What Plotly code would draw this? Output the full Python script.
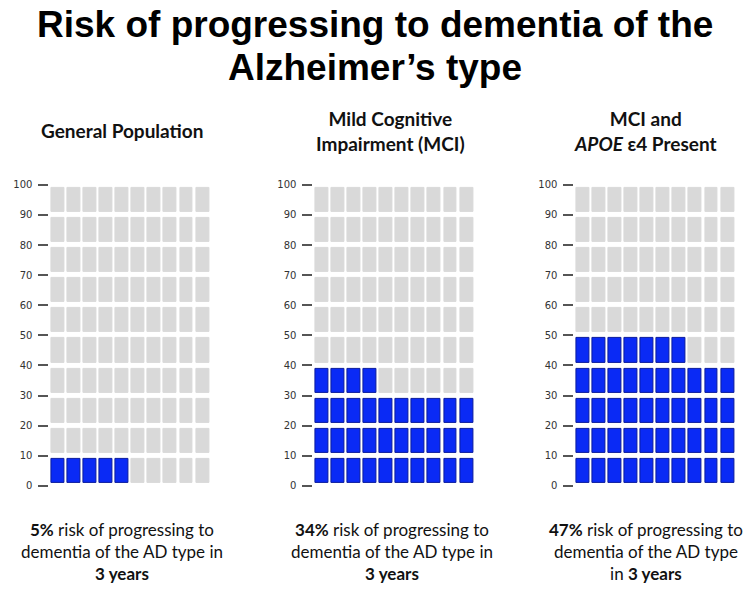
import numpy as np
import plotly.graph_objects as go
from plotly.subplots import make_subplots

# ---------------------------------------------------------------
#  DATA
# ---------------------------------------------------------------
panel_titles = ["<b>General Population</b>",
                "<b>Mild Cognitive<br>Impairment (MCI)</b>",
                "<b>MCI and<br><i>APOE</i> ε4 Present</b>"]
risk_pct = [5, 34, 47]
captions = ["<b>5%</b> risk of progressing to<br>dementia of the AD type in<br><b>3 years</b>",
            "<b>34%</b> risk of progressing to<br>dementia of the AD type in<br><b>3 years</b>",
            "<b>47%</b> risk of progressing to<br>dementia of the AD type<br>in <b>3 years</b>"]
y_ticks = [0, 10, 20, 30, 40, 50, 60, 70, 80, 90, 100]
n_cols = 10
n_rows = 10

# ---------------------------------------------------------------
#  STYLE
# ---------------------------------------------------------------
blue = "#0a2af5"
blue_edge = "#0a1a9c"
grey = "#d9d9d9"
x_domains = [[0.0659, 0.2808], [0.4179, 0.6328], [0.7659, 0.9808]]
y_domain = [0.1795, 0.693]
title_x = [0.163, 0.521, 0.860]
caption_x = [0.163, 0.523, 0.861]

fig = make_subplots(rows=1, cols=3)

for i, pct in enumerate(risk_pct):
    k = np.arange(n_rows * n_cols)
    col = k % n_cols
    row = k // n_cols
    filled = k < pct
    fig.add_trace(go.Bar(
        x=col, y=np.full(k.size, 8), base=row * 10 + 1, width=0.8,
        marker=dict(color=np.where(filled, blue, grey).tolist(),
                    line=dict(color=np.where(filled, blue_edge, grey).tolist(), width=1)),
        showlegend=False, hoverinfo="skip"), row=1, col=i + 1)

    n = "" if i == 0 else str(i + 1)
    fig.layout["xaxis" + n].update(domain=x_domains[i], range=[-0.5, 9.5], visible=False)
    fig.layout["yaxis" + n].update(domain=y_domain, range=[0, 100], tickvals=y_ticks,
                                   showgrid=False, zeroline=False, showline=False,
                                   ticks="outside", ticklen=10, tickwidth=2, tickcolor="#555",
                                   ticklabelstandoff=4,
                                   tickfont=dict(family="DejaVu Sans", size=10, color="#333"))

    fig.add_annotation(text=panel_titles[i], x=title_x[i], y=0.785, xref="paper", yref="paper",
                       xanchor="center", yanchor="middle", showarrow=False,
                       font=dict(family="Lato", size=19, color="#111"))
    fig.add_annotation(text=captions[i], x=caption_x[i], y=1 - 521 / 596, xref="paper", yref="paper",
                       xanchor="center", yanchor="top", showarrow=False,
                       font=dict(family="Lato", size=17, color="#111"))

fig.add_annotation(text="<b>Risk of progressing to dementia of the</b>", x=0.5, y=1 - 20 / 596,
                   xref="paper", yref="paper", xanchor="center", yanchor="middle", showarrow=False,
                   font=dict(family="Liberation Sans", size=37, color="#000"))
fig.add_annotation(text="<b>Alzheimer’s type</b>", x=0.5, y=1 - 64 / 596,
                   xref="paper", yref="paper", xanchor="center", yanchor="middle", showarrow=False,
                   font=dict(family="Liberation Sans", size=37, color="#000"))

fig.update_layout(width=750, height=596, margin=dict(l=0, r=0, t=0, b=0),
                  barmode="overlay", bargap=0,
                  paper_bgcolor="white", plot_bgcolor="white")

fig.write_html("out.html", config={"displayModeBar": False},
               post_script="document.body.style.margin='0';")
